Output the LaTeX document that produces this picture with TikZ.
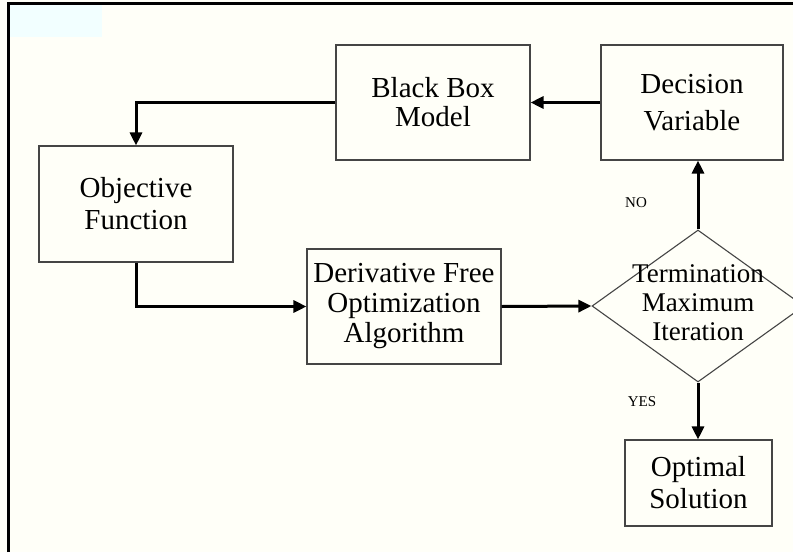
\documentclass[tikz,border=0pt]{standalone}
\usepackage{fontspec}
\setmainfont{Liberation Serif}
\usetikzlibrary{shapes.geometric,arrows.meta}
\definecolor{bgcol}{HTML}{FFFFF8}
\definecolor{bluish}{HTML}{F2FFFF}
\definecolor{boxline}{HTML}{454545}
\tikzset{
  boxnode/.style={draw=boxline, line width=1.1pt, fill=bgcol, rectangle, inner sep=0pt, align=center},
  arr/.style={line width=3pt, -{Triangle[length=13pt,width=12pt]}},
  lbl/.style={font=\fontsize{15}{17}\selectfont, inner sep=0pt},
}
\begin{document}
\begin{tikzpicture}[x=1pt,y=-1pt]
\useasboundingbox (0,0) rectangle (793,552);
\fill[bgcol] (0,0) rectangle (793,552);
\fill[bluish] (9,4) rectangle (102,37);
\draw[line width=3pt] (8,552) -- (8,3) -- (793,3);

\node[boxnode, minimum width=194pt, minimum height=115pt, font=\fontsize{29}{29}\selectfont] (bb) at (433,102.5) {Black Box\\Model};
\node[boxnode, minimum width=182pt, minimum height=115pt, font=\fontsize{29}{37}\selectfont] (dv) at (692,102.5) {Decision\\Variable};
\node[boxnode, minimum width=194pt, minimum height=116pt, font=\fontsize{29}{32}\selectfont] (of) at (136,204) {Objective\\Function};
\node[boxnode, minimum width=194pt, minimum height=115pt, font=\fontsize{29}{30}\selectfont] (df) at (404,306.5) {Derivative Free\\Optimization\\Algorithm};
\node[draw=boxline, line width=1.1pt, diamond, minimum width=212pt, minimum height=152pt, inner sep=0pt] (dm) at (698,306) {};
\node[align=center, inner sep=0pt, font=\fontsize{27}{29}\selectfont] (dmt) at (698,303) {Termination\\Maximum\\Iteration};
\node[boxnode, minimum width=147pt, minimum height=86pt, font=\fontsize{29}{32}\selectfont] (os) at (698.5,483) {Optimal\\Solution};

\node[lbl] (no) at (636,203) {NO};
\node[lbl] (yes) at (642,402) {YES};

\draw[arr] (bb.west) -| (of.north);
\draw[arr] (dv.west) -- (bb.east);
\draw[arr] (of.south) |- (df.west);
\draw[arr] (df.east) -- (dm.west);
\draw[arr] (dm.north) -- (dm.north |- dv.south);
\draw[arr] (dm.south) -- (dm.south |- os.north);
\end{tikzpicture}
\end{document}
